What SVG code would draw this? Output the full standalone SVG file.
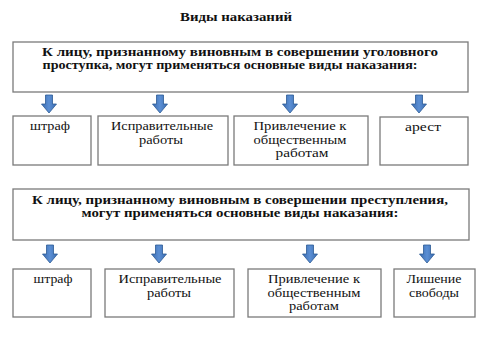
<svg xmlns="http://www.w3.org/2000/svg" width="500" height="339" viewBox="0 0 500 339">
<defs>
<linearGradient id="ag" x1="0" y1="0" x2="1" y2="0">
<stop offset="0" stop-color="#3a6bb0"/>
<stop offset="0.5" stop-color="#5b8fd4"/>
<stop offset="1" stop-color="#3a6bb0"/>
</linearGradient>
<path id="arr" d="M-3.5,0 H3.5 V9 H7.5 L0,18 L-7.5,9 H-3.5 Z"/>
</defs>
<style>
.box{fill:#fff;stroke:#7a7a7a;stroke-width:1.3}
.t{font-family:"Liberation Serif","DejaVu Serif",serif;font-size:13px;fill:#111;text-anchor:middle}
.b{font-weight:bold;font-size:12px}
.s{font-size:11.5px}
.a{fill:url(#ag);stroke:#2c5a94;stroke-width:0.8}
</style>
<rect width="500" height="339" fill="#fff"/>
<text class="t b" x="236" y="21" textLength="112" lengthAdjust="spacingAndGlyphs">Виды наказаний</text>

<g id="top1">
<rect class="box" x="13" y="42" width="455" height="50"/>
<text class="t b s" x="240" y="55.5" textLength="396" lengthAdjust="spacingAndGlyphs">К лицу, признанному виновным в совершении  уголовного</text>
<text class="t b s" x="230" y="68.5" textLength="375" lengthAdjust="spacingAndGlyphs">проступка, могут применяться основные виды наказания:</text>
</g>
<g id="r1b1"><rect class="box" x="13" y="116" width="78" height="49"/><text class="t" x="50" y="130" textLength="40" lengthAdjust="spacingAndGlyphs">штраф</text></g>
<g id="r1b2"><rect class="box" x="98" y="116" width="130" height="49"/><text class="t" x="162" y="130" textLength="102" lengthAdjust="spacingAndGlyphs">Исправительные</text><text class="t" x="161" y="144" textLength="44" lengthAdjust="spacingAndGlyphs">работы</text></g>
<g id="r1b3"><rect class="box" x="234" y="116" width="134" height="49"/><text class="t" x="300" y="130" textLength="93" lengthAdjust="spacingAndGlyphs">Привлечение к</text><text class="t" x="300" y="143.5" textLength="93" lengthAdjust="spacingAndGlyphs">общественным</text><text class="t" x="302" y="157" textLength="53" lengthAdjust="spacingAndGlyphs">работам</text></g>
<g id="r1b4"><rect class="box" x="380" y="117" width="88" height="48"/><text class="t" x="423" y="131" textLength="36" lengthAdjust="spacingAndGlyphs">арест</text></g>

<g id="top2">
<rect class="box" x="13" y="189" width="456" height="51"/>
<text class="t b" x="240" y="204" textLength="416" lengthAdjust="spacingAndGlyphs">К лицу, признанному виновным в совершении  преступления,</text>
<text class="t b" x="240" y="217" textLength="317" lengthAdjust="spacingAndGlyphs">могут применяться основные виды наказания:</text>
</g>
<g id="r2b1"><rect class="box" x="13" y="269" width="78" height="48"/><text class="t" x="53" y="283" textLength="39" lengthAdjust="spacingAndGlyphs">штраф</text></g>
<g id="r2b2"><rect class="box" x="105" y="269" width="129" height="48"/><text class="t" x="170" y="283" textLength="103" lengthAdjust="spacingAndGlyphs">Исправительные</text><text class="t" x="169" y="297" textLength="44" lengthAdjust="spacingAndGlyphs">работы</text></g>
<g id="r2b3"><rect class="box" x="248" y="269" width="133" height="48"/><text class="t" x="314" y="283" textLength="92" lengthAdjust="spacingAndGlyphs">Привлечение к</text><text class="t" x="314" y="296.5" textLength="93" lengthAdjust="spacingAndGlyphs">общественным</text><text class="t" x="314" y="310" textLength="50" lengthAdjust="spacingAndGlyphs">работам</text></g>
<g id="r2b4"><rect class="box" x="394" y="269" width="81" height="48"/><text class="t" x="434" y="283" textLength="55" lengthAdjust="spacingAndGlyphs">Лишение</text><text class="t" x="434" y="297" textLength="50" lengthAdjust="spacingAndGlyphs">свободы</text></g>

<g id="connectors">
<use href="#arr" class="a" x="49" y="95"/>
<use href="#arr" class="a" x="160" y="95"/>
<use href="#arr" class="a" x="290" y="95"/>
<use href="#arr" class="a" x="419" y="95"/>
<use href="#arr" class="a" x="50" y="245"/>
<use href="#arr" class="a" x="159" y="245"/>
<use href="#arr" class="a" x="310" y="245"/>
<use href="#arr" class="a" x="427" y="245"/>
</g>
</svg>
